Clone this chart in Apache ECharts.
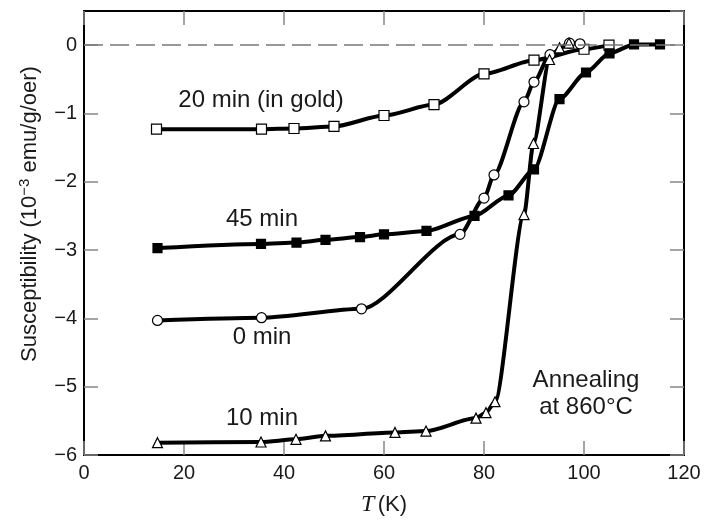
<!DOCTYPE html>
<html>
<head>
<meta charset="utf-8">
<script src="https://cdn.jsdelivr.net/npm/echarts@6/dist/echarts.min.js"></script>
<style>
  html, body { margin: 0; padding: 0; background: #fff; }
  #chart { width: 704px; height: 520px; }
</style>
</head>
<body>
<div id="chart"></div>
<script>
// readings taken off the figure: [T (K), susceptibility (1e-3 emu/g/oer)]
var min20 = [[14.5, -1.23], [35.5, -1.23], [42, -1.22], [50, -1.19], [60, -1.03],
  [70, -0.87], [80, -0.42], [90, -0.22], [100, -0.06], [105, 0.0]];
var min45 = [[14.7, -2.97], [35.4, -2.91], [42.5, -2.89], [48.3, -2.85], [55.2, -2.81],
  [60, -2.77], [68.5, -2.72], [78.1, -2.5], [84.9, -2.2], [90, -1.82], [95.1, -0.79],
  [100.4, -0.4], [105.1, -0.12], [110, 0.01], [115.2, 0.01]];
var min0 = [[14.7, -4.03], [35.5, -3.99], [55.5, -3.86], [75.2, -2.77], [80, -2.24],
  [82, -1.9], [88, -0.83], [90, -0.54], [93.2, -0.14], [97.1, 0.03], [99.2, 0.02]];
var min10 = [[14.7, -5.82], [35.4, -5.81], [42.4, -5.77], [48.3, -5.72], [62.2, -5.67],
  [68.4, -5.65], [78.4, -5.46], [80.4, -5.38], [82.2, -5.22], [88, -2.48], [89.9, -1.44],
  [93.1, -0.21], [95.1, -0.04], [97, 0.03]];

var xMin = 0, xMax = 120, xStep = 20;
var yMin = -6, yMax = 0.5, yStep = 1;

var font = 'Liberation Sans, Arial, sans-serif';
var ink = '#1a1a1a';

function tickFmt(v) {
  return String(v).replace('-', '\u2212');
}

var frame = { show: true, onZero: false, lineStyle: { color: '#000', width: 2 } };
var inTick = { show: true, inside: true, length: 14, lineStyle: { color: '#888', width: 1.5 } };

function curve(name, data, symbol, size, fill) {
  return {
    name: name,
    type: 'line',
    data: data,
    smooth: 0.25,
    smoothMonotone: 'x',
    symbol: symbol,
    symbolSize: size,
    showAllSymbol: true,
    lineStyle: { color: '#000', width: 4 },
    itemStyle: { color: fill, borderColor: '#000', borderWidth: 1.2 },
    z: 3
  };
}

function note(x, y, text) {
  return {
    type: 'text', x: x, y: y,
    style: { text: text, font: '24px ' + font, fill: ink, align: 'center', verticalAlign: 'middle' }
  };
}

var chart = echarts.init(document.getElementById('chart'));
chart.setOption({
  animation: false,
  backgroundColor: '#fff',
  grid: { left: 84, right: 20, top: 11, bottom: 65, outerBoundsMode: 'none', containLabel: false },
  xAxis: [{
    type: 'value', min: xMin, max: xMax, interval: xStep,
    axisLine: frame, axisTick: inTick, splitLine: { show: false },
    axisLabel: { color: ink, fontSize: 20, fontFamily: font, margin: 8 },
    name: '{t|T} {k|(K)}',
    nameLocation: 'middle',
    nameGap: 38,
    nameTextStyle: {
      rich: {
        t: { fontFamily: 'Liberation Serif, serif', fontStyle: 'italic', fontSize: 24, color: ink },
        k: { fontFamily: font, fontSize: 22, color: ink }
      }
    }
  }, {
    type: 'value', position: 'top', min: xMin, max: xMax, interval: xStep,
    axisLine: frame, axisTick: inTick, axisLabel: { show: false }, splitLine: { show: false }
  }],
  yAxis: [{
    type: 'value', min: yMin, max: yMax, interval: yStep,
    axisLine: frame, axisTick: inTick, splitLine: { show: false },
    axisLabel: { color: ink, fontSize: 20, fontFamily: font, margin: 7, showMaxLabel: false, formatter: tickFmt }
  }, {
    type: 'value', position: 'right', min: yMin, max: yMax, interval: yStep,
    axisLine: frame, axisTick: inTick, axisLabel: { show: false }, splitLine: { show: false }
  }],
  graphic: [
    {
      type: 'text', x: 30, y: 362, rotation: Math.PI / 2,
      style: {
        text: '{a|Susceptibility (10}{s|\u22123}{a| emu/g/oer)}',
        align: 'left', verticalAlign: 'middle',
        rich: {
          a: { fontSize: 22, fontFamily: font, fill: ink, lineHeight: 25 },
          s: { fontSize: 15, fontFamily: font, fill: ink, verticalAlign: 'top', lineHeight: 15 }
        }
      }
    },
    note(261, 100, '20 min (in gold)'),
    note(262, 219, '45 min'),
    note(262, 337, '0 min'),
    note(262, 418, '10 min'),
    note(586, 380, 'Annealing'),
    note(586, 407, 'at 860\u00b0C')
  ],
  series: [
    {
      name: 'zero',
      type: 'line',
      data: [],
      markLine: {
        silent: true,
        symbol: 'none',
        label: { show: false },
        lineStyle: { color: '#777', width: 1.5, type: [19, 7] },
        data: [{ yAxis: 0 }]
      },
      z: 1
    },
    curve('20 min (in gold)', min20, 'rect', 10, '#fff'),
    curve('45 min', min45, 'rect', 9, '#000'),
    curve('0 min', min0, 'circle', 10, '#fff'),
    curve('10 min', min10, 'triangle', 10, '#fff')
  ]
});
</script>
</body>
</html>
